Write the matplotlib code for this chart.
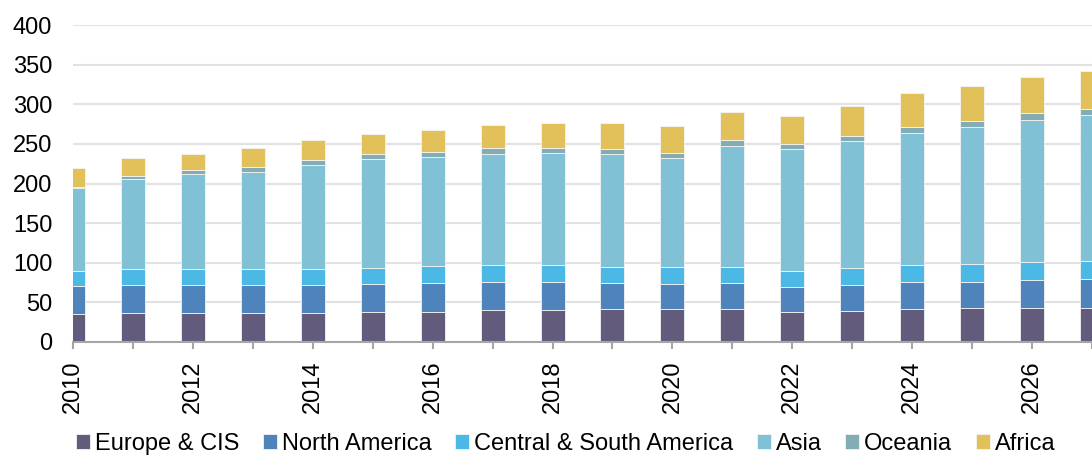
import numpy as np
import matplotlib
matplotlib.use('Agg')
import matplotlib.pyplot as plt

plt.rcParams['font.family'] = ['Liberation Sans', 'DejaVu Sans']

years = list(range(2010, 2028))
regions = ['Europe & CIS', 'North America', 'Central & South America', 'Asia', 'Oceania', 'Africa']
colors = ['#635b7c', '#4f83bb', '#4bb8e6', '#80c1d5', '#84acb4', '#e2c05a']

europe = [35, 36.2, 36, 36, 36.6, 37.9, 37.9, 40.8, 40.8, 41.2, 41.2, 41.2, 37.9, 38.9, 41.2, 42.5, 42.5, 42.5]
north_america = [36, 36.1, 36.3, 36.3, 35.7, 34.9, 36.1, 35.3, 35.3, 33.7, 32.4, 33.7, 31.9, 33.4, 34.1, 33.6, 36.1, 37]
central_south = [18.6, 20.2, 20.2, 20.2, 20.2, 21, 22.3, 21.5, 21.5, 20.1, 21.4, 20.1, 20.2, 21.3, 22.3, 22.7, 22.7, 23.1]
asia = [104.4, 113.2, 119.9, 122, 130.5, 136.7, 137.1, 139.2, 140.9, 141.8, 137.2, 152.3, 153.5, 160, 166.1, 172.1, 178.4, 183.8]
oceania = [2, 4.2, 4.2, 6.3, 7, 6.3, 6.8, 8, 6.3, 6.3, 6.7, 7.1, 6.7, 6.7, 8, 8.4, 8.8, 8]
africa = [23.6, 22.1, 20.6, 24, 25.3, 25.7, 27.8, 29.4, 31.5, 32.9, 34.1, 35.8, 34.6, 37.7, 42.1, 44.1, 45.9, 47.9]

series = [europe, north_america, central_south, asia, oceania, africa]

fig = plt.figure(figsize=(10.92, 4.57), dpi=100)
ax = fig.add_axes([73 / 1092, 1 - 342 / 457, 1 - 73 / 1092, (342 - 25) / 457])

bottom = np.zeros(len(years))
for name, vals, col in zip(regions, series, colors):
    ax.bar(years, vals, width=0.4, bottom=bottom, color=col, label=name,
           edgecolor='#f4f4f4', linewidth=0.6, zorder=3)
    bottom += np.array(vals)

ax.set_xlim(2010, 2026.876)
ax.set_ylim(0, 400)
ax.set_yticks(range(0, 401, 50))
ax.set_xticks(years)
ax.set_xticklabels([str(y) if y % 2 == 0 else '' for y in years], rotation=90)

ax.grid(axis='y', color='#e2e2e2', linewidth=1.5, zorder=0)
for s in ['top', 'right', 'left']:
    ax.spines[s].set_visible(False)
ax.spines['bottom'].set_color('#a6a6a6')
ax.spines['bottom'].set_linewidth(1.5)
ax.spines['bottom'].set_zorder(4)

ax.tick_params(axis='y', length=0, pad=15, labelsize=17)
ax.tick_params(axis='x', length=5, width=1.5, color='#a6a6a6', pad=8, labelsize=17)

# legend along the bottom edge, kept just inside the picture
fig.legend(loc='center', bbox_to_anchor=(0.518, 1 - 444 / 457), ncol=6, frameon=False,
           fontsize=17, handlelength=0.6, handleheight=0.6, handletextpad=0.2,
           columnspacing=1.0, borderaxespad=0)

fig.savefig('out.png', dpi=100)
